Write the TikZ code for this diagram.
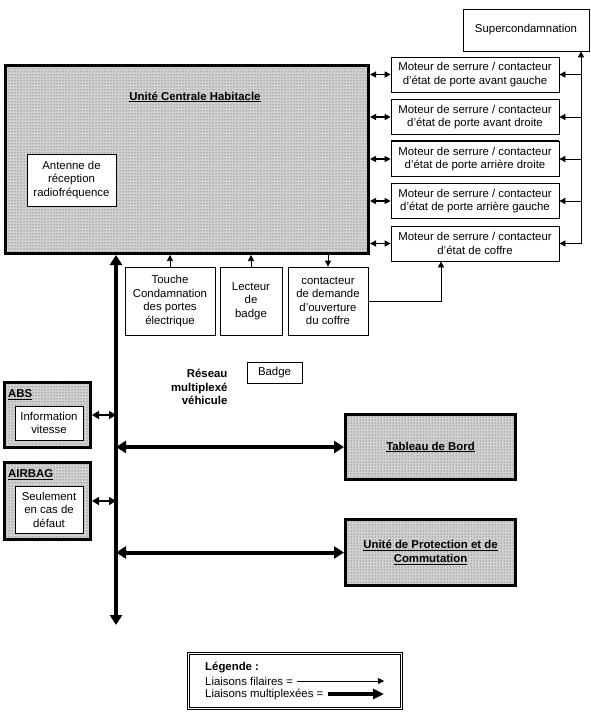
\documentclass[tikz,border=0pt]{standalone}
\usepackage{fontspec}
\setmainfont{Liberation Sans}
\usetikzlibrary{arrows.meta,patterns}

\begin{document}
\begin{tikzpicture}[x=1pt,y=-1pt,
	every node/.style={font=\fontsize{11.4}{13.5}\selectfont},
	box/.style={draw,fill=white,align=center,inner sep=1pt,line width=0.7pt},
	ecu/.style={draw,line width=3pt,fill=gray!35,postaction={pattern=dots,pattern color=black!75}},
	titre/.style={font=\fontsize{11.4}{13.5}\selectfont\bfseries},
	fil/.style={line width=0.7pt,-{Triangle[length=6pt,width=6pt]}},
	dfil/.style={line width=1.2pt,{Triangle[length=6pt,width=6pt]}-{Triangle[length=6pt,width=6pt]}},
	dmux/.style={line width=2.5pt,{Triangle[length=7pt,width=8pt]}-{Triangle[length=7pt,width=8pt]}},
	bus/.style={line width=4pt,{Triangle[length=10pt,width=12pt]}-{Triangle[length=10pt,width=12pt]}}]
			\useasboundingbox (0,0) rectangle (590,714);
			
			% unite centrale habitacle
			\node[ecu,minimum width=363pt,minimum height=188pt] (uch) at (187,159.5) {};
			\node[titre] (uchtitre) at (195,97) {\underline{Unité Centrale Habitacle}};
			\node[box,minimum width=89pt,minimum height=52pt] (antenne) at (71.5,180) {Antenne de\\réception\\radiofréquence};
			
			% moteurs de serrure
			\node[box,minimum width=126pt,minimum height=42pt] (super) at (526,30) {Supercondamnation};
			\foreach \n/\y/\txt in {1/74.5/{porte avant gauche},2/117/{porte avant droite},3/159/{porte arrière droite},4/201/{porte arrière gauche},5/243.5/{coffre}}{
				\node[box,minimum width=168pt,minimum height=35pt] (mot\n) at (475,\y) {Moteur de serrure / contacteur\\d'état de \txt};
				\coordinate (ret\n) at (581,\y);
				\draw[dfil] (uch.east |- mot\n.west) -- (mot\n.west);
				\draw[fil] (ret\n) -- (mot\n.east);
			}
			\draw[line width=2pt] (mot3.north west) -- (mot3.north east);
			\draw[fil] (ret5) -- (ret5 |- super.south);
			
			% entrees filaires
			\node[box,minimum width=90pt,minimum height=68pt] (touche) at (170,301) {Touche\\Condamnation\\des portes\\électrique};
			\node[box,minimum width=62pt,minimum height=68pt] (lecteur) at (251,301) {Lecteur\\de\\badge};
			\node[box,minimum width=80pt,minimum height=68pt] (ouvcoffre) at (328,301) {contacteur\\de demande\\d'ouverture\\du coffre};
			\coordinate (coude) at (441,301);
			\draw[fil] (touche.north) -- (touche.north |- uch.south);
			\draw[fil] (lecteur.north) -- (lecteur.north |- uch.south);
			\draw[fil] (ouvcoffre.north |- uch.south) -- (ouvcoffre.north);
			\draw[fil] (ouvcoffre.east) -- (coude) -- (coude |- mot5.south);
			
			% reseau multiplexe
			\coordinate (busbas) at (116,625);
			\draw[bus] (busbas) -- (busbas |- uch.south);
			\node[titre,anchor=east,align=right] (reseau) at (231,387) {Réseau\\multiplexé\\véhicule};
			\node[box,minimum width=55pt,minimum height=21pt] (badge) at (274.5,372.5) {Badge};
			
			\node[ecu,minimum width=86pt,minimum height=65pt] (abs) at (47.5,415) {};
			\node[titre,anchor=west,inner sep=1pt] (abstitre) at (7,395) {\underline{ABS}};
			\node[box,minimum width=68pt,minimum height=34pt] (vitesse) at (49,423) {Information\\vitesse};
			\draw[dmux] (abs.east) -- (abs.east -| busbas);
			
			\node[ecu,minimum width=86pt,minimum height=77pt] (airbag) at (47.5,501) {};
			\node[titre,anchor=west,inner sep=1pt] (airbagtitre) at (7,475) {\underline{AIRBAG}};
			\node[box,minimum width=68pt,minimum height=47pt] (defaut) at (49,509.5) {Seulement\\en cas de\\défaut};
			\draw[dmux] (airbag.east) -- (airbag.east -| busbas);
			
			\node[ecu,titre,minimum width=170pt,minimum height=65pt] (tdb) at (430.5,447) {\underline{Tableau de Bord}};
			\node[ecu,titre,align=center,minimum width=170pt,minimum height=66pt] (upc) at (430.5,552.5) {\underline{Unité de Protection et de}\\\underline{Commutation}};
			\draw[bus] (tdb.west -| busbas) -- (tdb.west);
			\draw[bus] (upc.west -| busbas) -- (upc.west);
			
			% legende
			\node[draw,line width=0.8pt,minimum width=215pt,minimum height=57pt] (legende) at (295,681) {};
			\draw[line width=0.6pt] ([shift={(2.5,2.5)}]legende.north west) rectangle ([shift={(-2.5,-2.5)}]legende.south east);
			\node[titre,anchor=west,inner sep=1pt] (legtitre) at (204,668) {Légende :};
			\node[anchor=west,inner sep=1pt] (legfil) at (204,681) {Liaisons filaires =};
			\node[anchor=west,inner sep=1pt] (legmux) at (204,694) {Liaisons multiplexées =};
			\coordinate (finfil) at (384,681);
			\coordinate (finmux) at (384,694);
			\draw[fil] ([xshift=3pt]legfil.east) -- (finfil);
			\draw[line width=4pt,-{Triangle[length=11pt,width=10pt]}] ([xshift=3pt]legmux.east) -- (finmux);
			\end{tikzpicture}
\end{document}
